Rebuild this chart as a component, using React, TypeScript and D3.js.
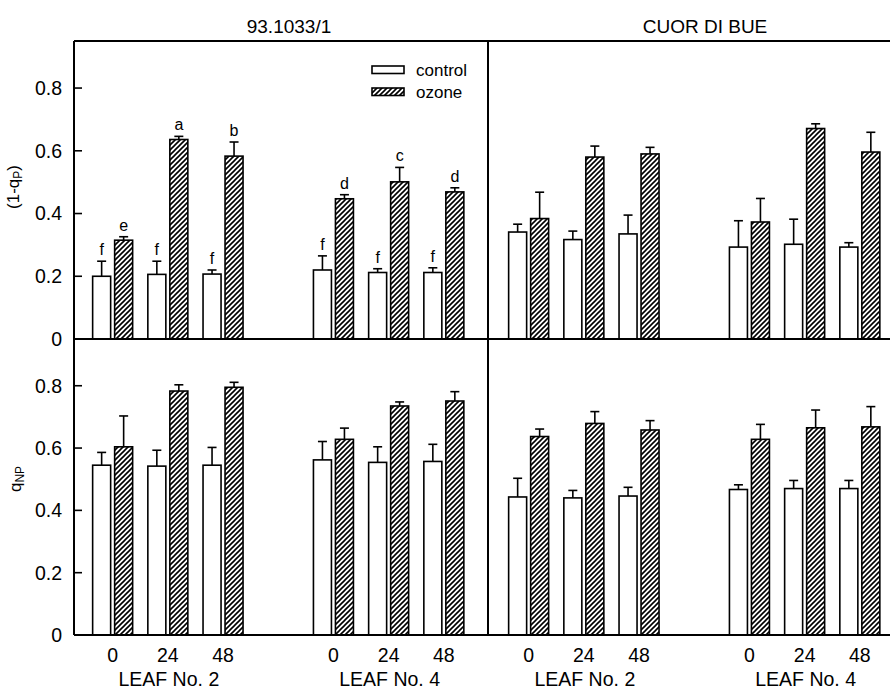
import * as d3 from 'd3';
import { useEffect, useRef } from 'react';

// x positions: 0/24/48 h for leaf 2, then the same for leaf 4
const times = ['0', '24', '48'];
const leaves = ['LEAF No. 2', 'LEAF No. 4'];
const cultivars = ['93.1033/1', 'CUOR DI BUE'];
const yTicks = [0, 0.2, 0.4, 0.6, 0.8];

// (1-qP)
const qpControlA = [0.2, 0.206, 0.207, 0.22, 0.212, 0.212];
const qpControlAErr = [0.048, 0.042, 0.013, 0.045, 0.012, 0.015];
const qpOzoneA = [0.315, 0.636, 0.583, 0.447, 0.501, 0.469];
const qpOzoneAErr = [0.011, 0.01, 0.045, 0.013, 0.046, 0.013];
const qpControlB = [0.341, 0.317, 0.335, 0.293, 0.302, 0.293];
const qpControlBErr = [0.025, 0.027, 0.06, 0.084, 0.08, 0.014];
const qpOzoneB = [0.384, 0.58, 0.59, 0.373, 0.671, 0.596];
const qpOzoneBErr = [0.084, 0.035, 0.021, 0.075, 0.015, 0.063];
const lettersControlA = ['f', 'f', 'f', 'f', 'f', 'f'];
const lettersOzoneA = ['e', 'a', 'b', 'd', 'c', 'd'];

// qNP
const qnpControlA = [0.545, 0.542, 0.545, 0.562, 0.554, 0.557];
const qnpControlAErr = [0.041, 0.051, 0.057, 0.059, 0.05, 0.055];
const qnpOzoneA = [0.604, 0.783, 0.795, 0.628, 0.735, 0.751];
const qnpOzoneAErr = [0.099, 0.02, 0.016, 0.036, 0.013, 0.03];
const qnpControlB = [0.443, 0.44, 0.446, 0.467, 0.47, 0.47];
const qnpControlBErr = [0.06, 0.024, 0.028, 0.015, 0.026, 0.026];
const qnpOzoneB = [0.637, 0.679, 0.658, 0.628, 0.665, 0.668];
const qnpOzoneBErr = [0.024, 0.038, 0.03, 0.048, 0.057, 0.065];

const positions = [0, 1, 2, 4, 5, 6];

function App() {
    return <Chart />;
}

const Chart = () => {
    const svgRef = useRef<SVGSVGElement>(null);

    useEffect(() => {
        const w = 890;
        const h = 691;
        const left = 74;
        const mid = 488;
        const panelShift = 416;
        const right = left + 2 * (mid - left) + 4;
        const top = 41;
        const middle = 339;
        const bottom = 635;
        const font = '"Liberation Sans", Arial, sans-serif';

        d3.select(svgRef.current).selectAll('*').remove();
        const svg = d3
            .select(svgRef.current)
            .attr('width', w)
            .attr('height', h)
            .style('font-family', font);

        const defs = svg.append('defs');
        const pat = defs
            .append('pattern')
            .attr('id', 'hatch')
            .attr('patternUnits', 'userSpaceOnUse')
            .attr('width', 5)
            .attr('height', 5);
        pat.append('rect').attr('width', 5).attr('height', 5).attr('fill', 'white');
        pat.append('path')
            .attr('d', 'M-1,6 L6,-1 M-1,1 L1,-1 M4,6 L6,4')
            .attr('stroke', 'black')
            .attr('stroke-width', 1.6);

        const x = d3.scaleLinear().domain([-0.7, 6.8]).range([left, mid]);
        const yTop = d3.scaleLinear().domain([0, 0.95]).range([middle, top]);
        const yBot = d3.scaleLinear().domain([0, 0.95]).range([bottom, middle]);

        const panels = [
            { y: yTop, shift: 0, c: qpControlA, ce: qpControlAErr, o: qpOzoneA, oe: qpOzoneAErr, lc: lettersControlA, lo: lettersOzoneA },
            { y: yTop, shift: panelShift, c: qpControlB, ce: qpControlBErr, o: qpOzoneB, oe: qpOzoneBErr },
            { y: yBot, shift: 0, c: qnpControlA, ce: qnpControlAErr, o: qnpOzoneA, oe: qnpOzoneAErr },
            { y: yBot, shift: panelShift, c: qnpControlB, ce: qnpControlBErr, o: qnpOzoneB, oe: qnpOzoneBErr },
        ];

        const barW = 18;

        panels.forEach((p) => {
            const g = svg.append('g').attr('transform', `translate(${p.shift},0)`);
            const series = [
                { vals: p.c, errs: p.ce, fill: 'white', off: -20, letters: p.lc },
                { vals: p.o, errs: p.oe, fill: 'url(#hatch)', off: 2, letters: p.lo },
            ];
            series.forEach((s) => {
                s.vals.forEach((v, i) => {
                    const cx = x(positions[i]) + s.off + barW / 2;
                    const yv = p.y(v);
                    const ye = p.y(v + s.errs[i]);
                    g.append('line')
                        .attr('x1', cx).attr('x2', cx)
                        .attr('y1', yv).attr('y2', ye)
                        .attr('stroke', 'black').attr('stroke-width', 1.6);
                    g.append('line')
                        .attr('x1', cx - 4.5).attr('x2', cx + 4.5)
                        .attr('y1', ye).attr('y2', ye)
                        .attr('stroke', 'black').attr('stroke-width', 1.6);
                    g.append('rect')
                        .attr('x', x(positions[i]) + s.off)
                        .attr('y', yv)
                        .attr('width', barW)
                        .attr('height', p.y(0) - yv)
                        .attr('fill', s.fill)
                        .attr('stroke', 'black')
                        .attr('stroke-width', 1.6);
                    if (s.letters) {
                        g.append('text')
                            .attr('x', cx)
                            .attr('y', ye - 6)
                            .attr('text-anchor', 'middle')
                            .attr('font-size', 16)
                            .text(s.letters[i]);
                    }
                });
            });
        });

        // frame lines
        const frame = svg.append('g').attr('stroke', 'black').attr('stroke-width', 2);
        frame.append('line').attr('x1', left).attr('x2', left).attr('y1', top).attr('y2', bottom);
        frame.append('line').attr('x1', mid).attr('x2', mid).attr('y1', top).attr('y2', bottom);
        [top, middle, bottom].forEach((yy) => {
            frame.append('line').attr('x1', left).attr('x2', right).attr('y1', yy).attr('y2', yy);
        });

        // y axes, inward ticks
        [yTop, yBot].forEach((ys) => {
            const ax = svg.append('g');
            yTicks.forEach((t) => {
                ax.append('line')
                    .attr('x1', left).attr('x2', left + 8)
                    .attr('y1', ys(t)).attr('y2', ys(t))
                    .attr('stroke', 'black').attr('stroke-width', 1.6);
                ax.append('text')
                    .attr('x', left - 12)
                    .attr('y', ys(t))
                    .attr('dy', '0.35em')
                    .attr('text-anchor', 'end')
                    .attr('font-size', 19.5)
                    .text(t === 0 ? '0' : d3.format('.1f')(t));
            });
        });

        // x labels
        [0, panelShift].forEach((shift) => {
            positions.forEach((pos, i) => {
                svg.append('text')
                    .attr('x', x(pos) + shift)
                    .attr('y', 662)
                    .attr('text-anchor', 'middle')
                    .attr('font-size', 19.5)
                    .text(times[i % 3]);
            });
            leaves.forEach((l, j) => {
                svg.append('text')
                    .attr('x', x(positions[j * 3 + 1]) + shift + 1)
                    .attr('y', 686)
                    .attr('text-anchor', 'middle')
                    .attr('font-size', 19.5)
                    .text(l);
            });
        });

        // titles
        cultivars.forEach((c, j) => {
            svg.append('text')
                .attr('x', (left + mid) / 2 + 8 + j * panelShift)
                .attr('y', 33)
                .attr('text-anchor', 'middle')
                .attr('font-size', 19)
                .text(c);
        });

        // y axis titles
        const t1 = svg.append('text')
            .attr('transform', `translate(19,${(top + middle) / 2 - 3}) rotate(-90)`)
            .attr('text-anchor', 'middle')
            .attr('font-size', 17);
        t1.append('tspan').text('(1-q');
        t1.append('tspan').attr('font-size', 12).attr('dy', 3).text('P');
        t1.append('tspan').attr('dy', -3).text(')');

        const t2 = svg.append('text')
            .attr('transform', `translate(21,${(middle + bottom) / 2 - 8}) rotate(-90)`)
            .attr('text-anchor', 'middle')
            .attr('font-size', 17);
        t2.append('tspan').text('q');
        t2.append('tspan').attr('font-size', 12).attr('dy', 3).text('NP');

        // legend
        const lg = svg.append('g');
        [
            { label: 'control', fill: 'white', y: 66 },
            { label: 'ozone', fill: 'url(#hatch)', y: 88 },
        ].forEach((d) => {
            lg.append('rect')
                .attr('x', 372).attr('y', d.y)
                .attr('width', 32).attr('height', 7.5)
                .attr('fill', d.fill)
                .attr('stroke', 'black').attr('stroke-width', 1.6);
            lg.append('text')
                .attr('x', 416)
                .attr('y', d.y + 4)
                .attr('dy', '0.35em')
                .attr('font-size', 17)
                .text(d.label);
        });
    }, []);

    return (
        <svg ref={svgRef} style={{ position: 'absolute', left: 0, top: 0 }}></svg>
    );
};

export default App;
